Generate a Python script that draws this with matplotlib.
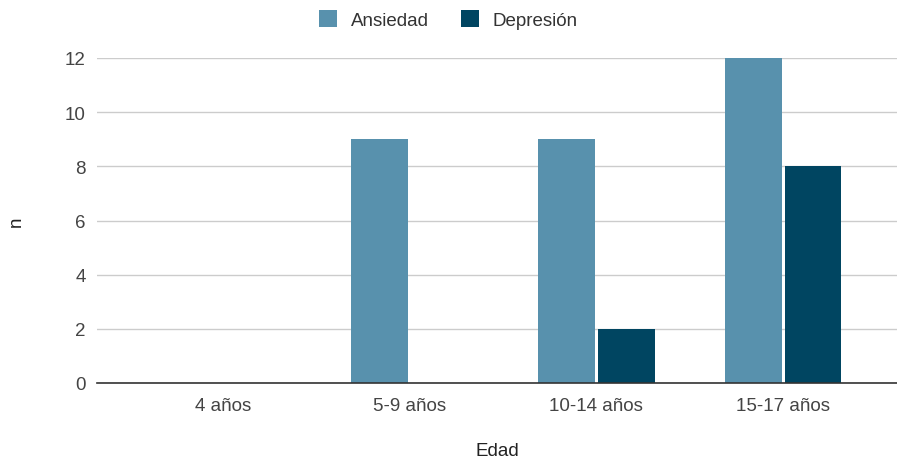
import matplotlib.pyplot as plt
import numpy as np

categorias = ['4 años', '5-9 años', '10-14 años', '15-17 años']
ansiedad = [0, 9, 9, 12]
depresion = [0, 0, 2, 8]
yticks = [0, 2, 4, 6, 8, 10, 12]

c_ans = '#5891ad'
c_dep = '#004561'

plt.rcParams['font.family'] = ['Liberation Sans', 'DejaVu Sans']

fig = plt.figure(figsize=(8.97, 4.6), dpi=100)
ax = fig.add_axes([97 / 897, 1 - 384 / 460, 800 / 897, (384 - 59) / 460])

x = np.arange(len(categorias))
w = 0.305
ax.bar(x - 0.16, ansiedad, w, color=c_ans, label='Ansiedad', zorder=3)
ax.bar(x + 0.16, depresion, w, color=c_dep, label='Depresión', zorder=3)

ax.set_xlim(-0.675, 3.61)
ax.set_ylim(0, 12)
ax.set_yticks(yticks)
ax.set_xticks(x)
ax.set_xticklabels(categorias)
ax.tick_params(length=0, labelsize=13.5, labelcolor='#444444')
ax.tick_params(axis='y', pad=8)
ax.tick_params(axis='x', pad=10)

ax.grid(axis='y', color='#cccccc', linewidth=1, zorder=0)
for s in ['top', 'right', 'left']:
    ax.spines[s].set_visible(False)
ax.spines['bottom'].set_color('#333333')
ax.spines['bottom'].set_linewidth(1.2)
ax.spines['bottom'].set_zorder(4)

ax.set_xlabel('Edad', fontsize=13.5, color='#222222', labelpad=20)
ax.set_ylabel('n', fontsize=13.5, color='#222222', labelpad=29)

fig.legend(loc='upper center', bbox_to_anchor=(0.5, 1.012), ncol=2, frameon=False,
           fontsize=13.5, handlelength=0.95, handleheight=0.95, columnspacing=1.7,
           handletextpad=0.75, labelcolor='#333333')

fig.savefig('out.png', dpi=100)
